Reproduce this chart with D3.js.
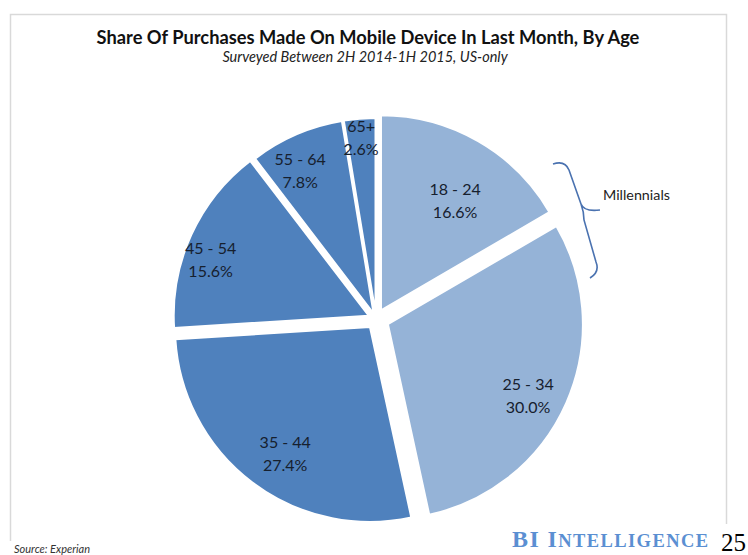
<!DOCTYPE html>
<html>
<head>
<meta charset="utf-8">
<script src="https://cdn.jsdelivr.net/npm/d3@7"></script>
<style>
  html, body { margin: 0; padding: 0; background: #fff; }
  svg { display: block; }
</style>
</head>
<body>
<svg id="chart" width="748" height="555"></svg>
<script>
// Age groups and their share of mobile purchases (%)
const categories = ["18 - 24", "25 - 34", "35 - 44", "45 - 54", "55 - 64", "65+"];
const shares = [16.6, 30.0, 27.4, 15.6, 7.8, 2.6];

// Layout per slice: explode distance, label distance, label angle nudge (deg)
const explode = [10, 13, 10, 8, 6, 6];
const labelDist = [143, 170, 162, 176, 167, 183];
const labelNudge = [3.7, 2.8, -3, -4.5, -3.6, 0];
const fills = ["#95b3d7", "#95b3d7", "#4f81bd", "#4f81bd", "#4f81bd", "#4f81bd"];

const svg = d3.select("#chart");
const cx = 376, cy = 319, R = 195;
const sans = "Lato, 'Open Sans', sans-serif";
const serif = "'Liberation Serif', 'DejaVu Serif', serif";

// light frame around the panel (open at the bottom)
svg.append("path")
  .attr("d", "M10.5,541 L10.5,14.5 L726.5,14.5 L726.5,524")
  .attr("fill", "none")
  .attr("stroke", "#d9d9d9")
  .attr("stroke-width", 1.5);

// Title block
svg.append("text")
  .attr("x", 368).attr("y", 44)
  .attr("text-anchor", "middle")
  .attr("font-family", sans)
  .attr("font-weight", "bold")
  .attr("font-size", 18.3)
  .attr("fill", "#111")
  .text("Share Of Purchases Made On Mobile Device In Last Month, By Age");

svg.append("text")
  .attr("x", 365).attr("y", 62)
  .attr("text-anchor", "middle")
  .attr("font-family", sans)
  .attr("font-style", "italic")
  .attr("font-size", 14.5)
  .attr("fill", "#222")
  .text("Surveyed Between 2H 2014-1H 2015, US-only");

// Pie
const rows = categories.map((c, i) => ({ cat: c, value: shares[i], i }));
const pie = d3.pie().value(d => d.value).sort(null).startAngle(0).endAngle(2 * Math.PI);
const arc = d3.arc().innerRadius(0).outerRadius(R);
const arcs = pie(rows);

const g = svg.append("g").attr("transform", `translate(${cx},${cy})`);

g.selectAll("path.slice")
  .data(arcs)
  .join("path")
  .attr("class", "slice")
  .attr("d", arc)
  .attr("fill", d => fills[d.data.i])
  .attr("stroke", "#fff")
  .attr("stroke-width", 2)
  .attr("stroke-linejoin", "round")
  .attr("transform", d => {
    const a = (d.startAngle + d.endAngle) / 2;
    const o = explode[d.data.i];
    return `translate(${o * Math.sin(a)},${-o * Math.cos(a)})`;
  });

const fmt = d3.format(".1f");
const labels = g.selectAll("g.lbl")
  .data(arcs)
  .join("g")
  .attr("class", "lbl")
  .attr("transform", d => {
    const a = (d.startAngle + d.endAngle) / 2 + labelNudge[d.data.i] * Math.PI / 180;
    const r = labelDist[d.data.i];
    return `translate(${r * Math.sin(a)},${-r * Math.cos(a)})`;
  });

labels.append("text")
  .attr("text-anchor", "middle")
  .attr("y", -5)
  .attr("font-family", sans)
  .attr("font-size", 16)
  .attr("fill", "#16202e")
  .text(d => d.data.cat);

labels.append("text")
  .attr("text-anchor", "middle")
  .attr("y", 18)
  .attr("font-family", sans)
  .attr("font-size", 16)
  .attr("fill", "#16202e")
  .text(d => fmt(d.data.value) + "%");

// Millennials brace
svg.append("path")
  .attr("d", "M553,164 Q565,160 569,170 L581,204 Q584,212 600,210 M581,204 Q584,212 584,220 L596,262 Q600,272 590,278")
  .attr("fill", "none")
  .attr("stroke", "#4a72b0")
  .attr("stroke-width", 1.6);

svg.append("text")
  .attr("x", 603).attr("y", 200)
  .attr("font-family", sans)
  .attr("font-size", 14.3)
  .attr("fill", "#222")
  .text("Millennials");

// Footer
svg.append("text")
  .attr("x", 14).attr("y", 553)
  .attr("font-family", sans)
  .attr("font-style", "italic")
  .attr("font-size", 11)
  .attr("fill", "#333")
  .text("Source: Experian");

// Logo wordmark, drawn as caps plus small caps
const logo = svg.append("text")
  .attr("x", 512).attr("y", 547)
  .attr("font-family", serif)
  .attr("font-weight", "bold")
  .attr("fill", "#5b8fd2")
  .attr("letter-spacing", 1.4);
logo.append("tspan").attr("font-size", 24).text("BI I");
logo.append("tspan").attr("font-size", 18.5).text("NTELLIGENCE");

svg.append("text")
  .attr("x", 721).attr("y", 551)
  .attr("font-family", serif)
  .attr("font-size", 25)
  .attr("fill", "#000")
  .text("25");
</script>
</body>
</html>
